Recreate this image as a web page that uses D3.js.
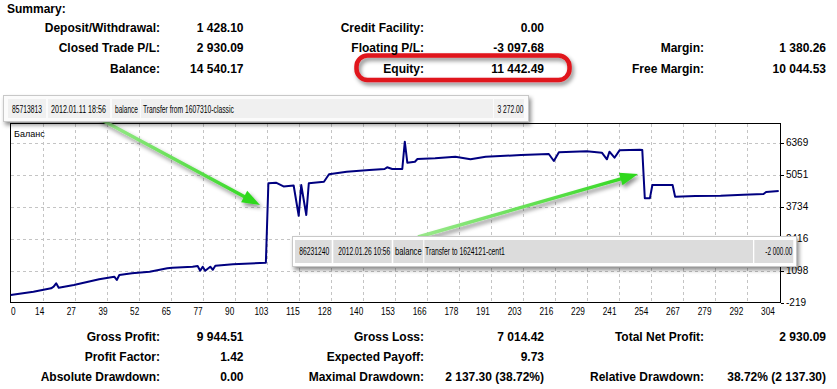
<!DOCTYPE html>
<html>
<head>
<meta charset="utf-8">
<script src="https://cdn.jsdelivr.net/npm/d3@7/dist/d3.min.js"></script>
<style>
  body { margin: 0; background: #fff; }
  svg { display: block; font-family: "Liberation Sans", Arial, sans-serif; }
</style>
</head>
<body>
<svg id="chart" width="837" height="389"></svg>
<script>
// summary tables
const topLabels = [
  ['Deposit/Withdrawal:', 'Closed Trade P/L:', 'Balance:'],
  ['Credit Facility:', 'Floating P/L:', 'Equity:'],
  ['', 'Margin:', 'Free Margin:']
]
const topValues = [
  ['1 428.10', '2 930.09', '14 540.17'],
  ['0.00', '-3 097.68', '11 442.49'],
  ['', '1 380.26', '10 044.53']
]
const bottomLabels = [
  ['Gross Profit:', 'Profit Factor:', 'Absolute Drawdown:'],
  ['Gross Loss:', 'Expected Payoff:', 'Maximal Drawdown:'],
  ['Total Net Profit:', '', 'Relative Drawdown:']
]
const bottomValues = [
  ['9 944.51', '1.42', '0.00'],
  ['7 014.42', '9.73', '2 137.30 (38.72%)'],
  ['2 930.09', '', '38.72% (2 137.30)']
]

// balance curve (trade number -> balance)
const tradeNo = [0, 9, 16, 17, 18, 19, 25, 35, 41, 42, 43, 48, 55, 62, 64, 72, 74, 75, 76, 77, 79, 80, 81, 88,
  101, 102, 105, 108, 110, 112, 114, 115, 117, 118, 124, 126, 133, 142, 148, 149, 151, 155, 156, 157, 160, 161,
  168, 176, 182, 188, 202, 213, 215, 217, 228, 234, 236, 237, 239, 241, 249, 250, 251, 253, 254, 262, 263, 271,
  281, 290, 298, 299, 304]
const balance = [90, 226, 366, 432, 572, 390, 502, 736, 843, 707, 913, 983, 1049, 1189, 1214, 1255, 1284, 1090, 1255, 1090, 1255, 1130, 1296, 1354,
  1420, 4690, 4714, 4560, 4578, 4600, 3354, 4619, 3384, 4690, 4755, 5060, 5167, 5237, 5278, 5348, 5278, 5278, 6402, 5537, 5578, 5690,
  5716, 5784, 5677, 5784, 5855, 5895, 5607, 5965, 6006, 5950, 5677, 5990, 5743, 6047, 6075, 6060, 4071, 4071, 4619, 4619, 4138, 4166,
  4180, 4220, 4250, 4330, 4372]

const xTickLabels = [0, 14, 27, 39, 52, 65, 77, 90, 103, 115, 128, 140, 153, 166, 178, 191, 203, 216, 229, 241, 254, 267, 279, 292, 304]
const yTickValues = [6369, 5051, 3734, 2416, 1098, -219]

// popup rows
const popup1 = ['85713813', '2012.01.11 18:56', 'balance', 'Transfer from 1607310-classic', '3 272.00']
const popup2 = ['86231240', '2012.01.26 10:56', 'balance', 'Transfer to 1624121-cent1', '-2 000.00']

const svg = d3.select('#chart')
const defs = svg.append('defs')

const shadow = defs.append('filter').attr('id', 'shadow')
  .attr('x', '-5%').attr('y', '-30%').attr('width', '112%').attr('height', '180%')
shadow.append('feDropShadow')
  .attr('dx', 2).attr('dy', 3).attr('stdDeviation', 2)
  .attr('flood-color', '#000').attr('flood-opacity', 0.45)

// squeeze a text horizontally to a given width (the source font is very narrow)
function narrowText (parent, tx, ty, width, anchor, size, txt) {
  const t = parent.append('text')
    .attr('x', 0).attr('y', 0)
    .attr('text-anchor', anchor)
    .style('font-size', size + 'px')
    .text(txt)
  const w = t.node().getComputedTextLength()
  t.attr('transform', `translate(${tx},${ty}) scale(${width / w},1)`)
  return t
}

// ---- summary blocks
const labelRight = [160, 424, 704]
const valueRight = [243.5, 544, 826]

function drawTable (labels, values, rows) {
  labels.forEach((col, c) => {
    col.forEach((txt, r) => {
      if (!txt) return
      svg.append('text')
        .attr('x', labelRight[c]).attr('y', rows[r] + 4.3)
        .attr('text-anchor', 'end')
        .style('font-size', '12px').style('font-weight', 'bold')
        .text(txt)
      svg.append('text')
        .attr('x', valueRight[c]).attr('y', rows[r] + 4.3)
        .attr('text-anchor', 'end')
        .style('font-size', '12px').style('font-weight', 'bold')
        .text(values[c][r])
    })
  })
}

svg.append('text')
  .attr('x', 7).attr('y', 12.6)
  .style('font-size', '12px').style('font-weight', 'bold')
  .text('Summary:')

// red marker around equity
svg.append('rect')
  .attr('x', 356.5).attr('y', 55.5)
  .attr('width', 213).attr('height', 24.5)
  .attr('rx', 11).attr('ry', 11)
  .attr('fill', 'none')
  .attr('stroke', '#e0141c').attr('stroke-width', 4.5)
  .attr('filter', 'url(#shadow)')

drawTable(topLabels, topValues, [28, 47.7, 68.3])
drawTable(bottomLabels, bottomValues, [336.7, 356.7, 376.7])

// ---- chart
const x = d3.scaleLinear().domain([0, 304]).range([10.7, 778.7])
const xLabel = d3.scaleLinear().domain([0, 304]).range([8, 768])
const y = d3.scaleLinear().domain([-219, 7160]).range([302.5, 123.3])
const step = 304 / (xTickLabels.length - 1)

const plot = svg.append('g')

plot.append('rect')
  .attr('x', 10.5).attr('y', 123.5).attr('width', 770).attr('height', 179)
  .attr('fill', '#fff')

plot.selectAll('.vgrid')
  .data(xTickLabels.slice(1, -1))
  .enter().append('line')
  .attr('x1', (d, i) => Math.round(x((i + 1) * step)) + 0.5)
  .attr('x2', (d, i) => Math.round(x((i + 1) * step)) + 0.5)
  .attr('y1', 124).attr('y2', 302)
  .attr('stroke', '#c4c4c4').attr('stroke-dasharray', '3,3')

plot.selectAll('.hgrid')
  .data(yTickValues.slice(0, -1))
  .enter().append('line')
  .attr('x1', 11).attr('x2', 780)
  .attr('y1', d => Math.round(y(d)) + 0.5)
  .attr('y2', d => Math.round(y(d)) + 0.5)
  .attr('stroke', '#c4c4c4').attr('stroke-dasharray', '3,3')

plot.append('rect')
  .attr('x', 10.5).attr('y', 123.5).attr('width', 770).attr('height', 179)
  .attr('fill', 'none').attr('stroke', '#000')

const line = d3.line()
  .x((d, i) => x(tradeNo[i]))
  .y(d => y(d))

plot.append('path')
  .datum(balance)
  .attr('d', line)
  .attr('fill', 'none')
  .attr('stroke', '#000080')
  .attr('stroke-width', 2)
  .attr('stroke-linejoin', 'round')

// y axis on the right
plot.selectAll('.ytick')
  .data(yTickValues)
  .enter().append('line')
  .attr('x1', 781).attr('x2', 784)
  .attr('y1', d => Math.round(y(d)) + 0.5)
  .attr('y2', d => Math.round(y(d)) + 0.5)
  .attr('stroke', '#000')

plot.selectAll('.ylab')
  .data(yTickValues)
  .enter().append('text')
  .attr('x', 786)
  .attr('y', d => y(d) + 3.6)
  .style('font-size', '10px')
  .text(d => d)

// x axis labels
xTickLabels.forEach((d, i) => {
  narrowText(plot, i === 0 ? 11 : xLabel(i * step), 314.5, String(d).length * 4.6,
    i === 0 ? 'start' : 'middle', 10, d)
})

plot.append('text')
  .attr('x', 14).attr('y', 136.5)
  .style('font-size', '9px')
  .text('Баланс')

// ---- arrows
function arrow (x1, y1, x2, y2, id) {
  const grad = defs.append('linearGradient').attr('id', id)
    .attr('gradientUnits', 'userSpaceOnUse')
    .attr('x1', x1).attr('y1', y1).attr('x2', x2).attr('y2', y2)
  grad.append('stop').attr('offset', '0%').attr('stop-color', '#9be88c')
  grad.append('stop').attr('offset', '100%').attr('stop-color', '#2fd81e')
  const dx = x2 - x1
  const dy = y2 - y1
  const len = Math.hypot(dx, dy)
  const ux = dx / len
  const uy = dy / len
  const hl = 18
  const hw = 6.5
  const bx = x2 - ux * hl
  const by = y2 - uy * hl
  const g = svg.append('g').attr('filter', 'url(#shadow)')
  g.append('line')
    .attr('x1', x1).attr('y1', y1).attr('x2', bx + ux * 2).attr('y2', by + uy * 2)
    .attr('stroke', `url(#${id})`).attr('stroke-width', 3.5)
  g.append('path')
    .attr('d', `M${x2},${y2}L${bx - uy * hw},${by + ux * hw}L${bx + uy * hw},${by - ux * hw}Z`)
    .attr('fill', '#2fd81e')
}

// ---- popups
function popup (box, cells, texts, widths, ty, cellFill, fill) {
  const g = svg.append('g')
  g.append('rect')
    .attr('x', box[0]).attr('y', box[1]).attr('width', box[2]).attr('height', box[3])
    .attr('fill', fill).attr('stroke', '#c8c8c8')
    .attr('filter', 'url(#shadow)')
  cells.forEach(c => {
    g.append('rect')
      .attr('x', c[0]).attr('y', box[1] + 3.5).attr('width', c[1] - c[0]).attr('height', box[3] - 7)
      .attr('fill', cellFill)
  })
  texts.forEach((t, i) => {
    const last = i === texts.length - 1
    narrowText(g, widths[i][0], ty, widths[i][1], last ? 'end' : 'start', 10.5, t)
  })
}

arrow(100, 119, 260, 205, 'g1')
arrow(418, 237, 638, 174, 'g2')

popup([3.5, 95.5, 525, 26],
  [[8, 46], [48, 110], [112, 140], [141, 493], [494, 524]],
  popup1,
  [[12, 30], [51, 55], [115, 23], [143, 91], [523.5, 26]],
  112.5, '#f0f0f0', '#fbfbfb')

popup([292.5, 236.5, 504, 30],
  [[295, 331.7], [333.3, 391.7], [393.3, 423.3], [424.3, 753], [754.3, 793.3]],
  popup2,
  [[299.3, 30], [338.3, 52], [395, 26.7], [425, 80], [792.3, 27]],
  255.3, '#dcdcdc', '#ffffff')
</script>
</body>
</html>
